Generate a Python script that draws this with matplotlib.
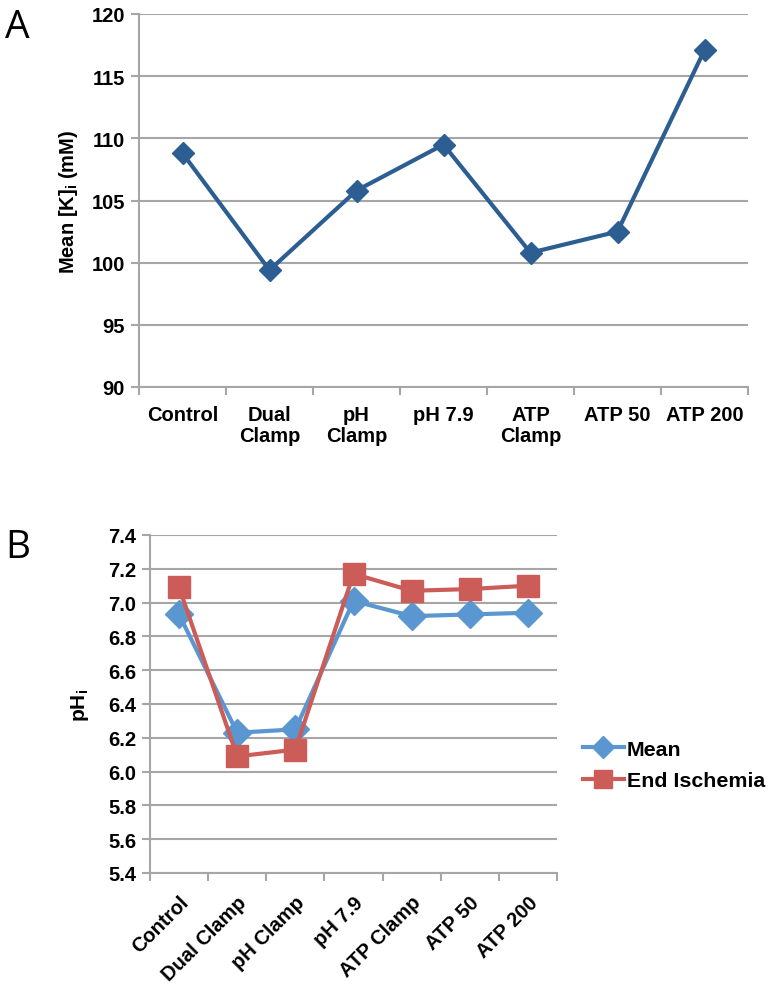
import matplotlib
matplotlib.use("Agg")
import matplotlib.pyplot as plt
import numpy as np

categories_a = ["Control", "Dual\nClamp", "pH\nClamp", "pH 7.9", "ATP\nClamp", "ATP 50", "ATP 200"]
mean_k = [108.8, 99.4, 105.8, 109.5, 100.8, 102.5, 117.1]

categories_b = ["Control", "Dual Clamp", "pH Clamp", "pH 7.9", "ATP Clamp", "ATP 50", "ATP 200"]
ph_mean = [6.93, 6.23, 6.25, 7.01, 6.92, 6.93, 6.94]
ph_end = [7.09, 6.09, 6.13, 7.17, 7.07, 7.08, 7.10]

plt.rcParams['font.family'] = ['Liberation Sans', 'DejaVu Sans']
plt.rcParams['font.weight'] = 'bold'
plt.rcParams['mathtext.fontset'] = 'custom'
plt.rcParams['mathtext.rm'] = 'Liberation Sans:bold'
plt.rcParams['mathtext.it'] = 'Liberation Sans:bold'
plt.rcParams['mathtext.bf'] = 'Liberation Sans:bold'

W, H = 768, 995
fig = plt.figure(figsize=(W / 100, H / 100), dpi=100)

grid_c = '#a6a6a6'
fs = 14.5

def style(ax, n):
    for s in ['top', 'right']:
        ax.spines[s].set_visible(False)
    for s in ['left', 'bottom']:
        ax.spines[s].set_color(grid_c)
        ax.spines[s].set_linewidth(1.5)
    ax.yaxis.grid(True, color=grid_c, linewidth=1.5)
    ax.set_axisbelow(True)
    ax.set_xlim(-0.5, n - 0.5)
    ax.set_xticks(np.arange(-0.5, n, 1.0))
    ax.set_xticklabels([])
    ax.set_xticks(np.arange(n), minor=True)
    ax.tick_params(axis='x', which='major', length=6, width=1.5, color=grid_c, direction='out')
    ax.tick_params(axis='x', which='minor', length=0, labelsize=fs, pad=13)
    ax.tick_params(axis='y', length=6, width=1.5, color=grid_c, labelsize=fs, pad=4)

# Panel A
axA = fig.add_axes([139 / W, 1 - 388 / H, (748 - 139) / W, (388 - 15) / H])
xa = np.arange(len(categories_a))
axA.plot(xa, mean_k, color='#2c5e92', linewidth=3, marker='D', markersize=11, zorder=3)
style(axA, len(categories_a))
axA.set_ylim(90, 120)
axA.set_yticks(np.arange(90, 121, 5))
axA.set_xticklabels(categories_a, minor=True, fontweight='bold', linespacing=1.15)
axA.set_ylabel("Mean [K]$_\\mathregular{i}$ (mM)", fontsize=14.5, fontweight='bold', labelpad=8)

# Panel B
axB = fig.add_axes([150 / W, 1 - 874 / H, (557 - 150) / W, (874 - 536) / H])
xb = np.arange(len(categories_b))
axB.plot(xb, ph_mean, color='#5a96d0', linewidth=3, marker='D', markersize=14, zorder=3, label='Mean')
axB.plot(xb, ph_end, color='#cc5c57', linewidth=3, marker='s', markersize=16, zorder=3, label='End Ischemia')
style(axB, len(categories_b))
axB.set_ylim(5.4, 7.4)
axB.set_yticks(np.round(np.arange(5.4, 7.41, 0.2), 1))
axB.set_yticklabels([f"{v:.1f}" for v in np.arange(5.4, 7.41, 0.2)])
axB.set_xticklabels(categories_b, minor=True, rotation=45, ha='right', rotation_mode='anchor', fontweight='bold')
axB.tick_params(axis='x', which='minor', pad=14)
axB.set_ylabel("pH$_\\mathregular{i}$", fontsize=15, fontweight='bold', labelpad=12)
axB.legend(loc='center left', bbox_to_anchor=((583 - 150) / 407, (874 - 766) / 338), frameon=False,
           fontsize=15.4, handlelength=1.9, handletextpad=0.15, labelspacing=0.6, markerscale=0.8,
           borderaxespad=0, borderpad=0)

fig.text(5 / W, 1 - 38 / H, "A", fontsize=28, fontweight='normal', family='Open Sans')
fig.text(5 / W, 1 - 558 / H, "B", fontsize=28, fontweight='normal', family='Open Sans')

fig.savefig("out.png", dpi=100)
